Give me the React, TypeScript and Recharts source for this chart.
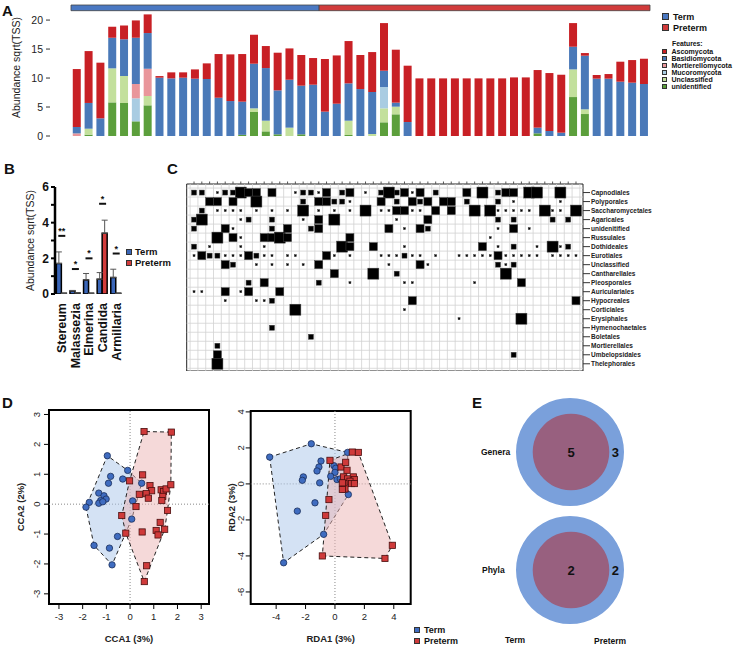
import React from 'react';
import {
  BarChart, Bar, XAxis, YAxis, ReferenceArea, ReferenceLine, ComposedChart,
  ErrorBar, Scatter, ScatterChart, PieChart, Pie,
} from 'recharts';

const FONT = "'Liberation Sans', Arial, Helvetica, sans-serif";

// ---------- A: phylum abundance per sample (49 samples, first 21 are Term)
const SAMPLES = Array.from({ length: 49 }, (_, i) => `S${i + 1}`);
const TERM_N = 21;

const UNIDENTIFIED = [
  0, 0.23, 0, 5.8, 5.7, 2.53, 5.29, 0, 0, 0,
  0, 0, 0, 0, 0.2, 4.14, 0.8, 0.29, 0, 0.29,
  0, 0, 0, 0.17, 0, 0, 2.36, 3.74, 0, 0,
  0, 0, 0, 0, 0, 0, 0, 0, 0, 0.46,
  0, 0, 6.72, 3.79, 0, 0, 0, 0, 0,
];
const UNCLASSIFIED = [
  0, 1.03, 0, 5.87, 4.64, 0, 1.61, 0, 0, 0,
  0, 0, 0, 0, 0, 0.63, 1.84, 0, 1.44, 0,
  0, 0, 0, 2.47, 0, 0.34, 2.41, 1.32, 0, 0,
  0, 0, 0, 0, 0, 0, 0, 0, 0, 0,
  0, 0, 4.77, 0.81, 0, 0, 0, 0, 0,
];
const MUCOROMYCOTA = [
  0, 0, 0, 0, 0, 3.97, 0, 0, 0, 0,
  0, 0, 0, 0, 0, 0, 0, 0, 0, 0,
  0, 0, 0, 0, 0, 0, 3.68, 0, 0, 0,
  0, 0, 0, 0, 0, 0, 0, 0, 0, 0,
  0, 0, 0, 0, 0, 0, 0, 0, 0,
];
const MORTIERELLOMYCOTA = [
  0.45, 0, 0, 0, 0, 2.47, 4.7, 0, 0, 0,
  0, 0, 0, 0, 0, 0, 0, 0, 0, 0,
  0, 0, 0, 0, 0, 0, 0, 0, 0, 0,
  0, 0, 0, 0, 0, 0, 0, 0, 0, 0,
  0, 0, 0, 0, 0, 0, 0, 0, 0,
];
const BASIDIOMYCOTA = [
  1.1, 4.44, 3.05, 5.28, 6.36, 7.98, 6.16, 10.06, 9.94, 10.06,
  9.89, 9.83, 6.6, 6.03, 5.72, 7.7, 9.08, 7.58, 8.27, 8.39,
  8.85, 4.2, 5.57, 6.44, 8.1, 7.25, 2.81, 0.69, 2.41, 0,
  0, 0, 0, 0, 0, 0, 0, 0, 0, 0.98,
  0.86, 0.57, 3.91, 9.25, 9.89, 9.89, 9.37, 9.2, 8.97,
];
const ASCOMYCOTA = [
  10.0, 8.95, 9.6, 1.9, 2.38, 2.99, 3.22, 0.28, 1.04, 0.92,
  1.6, 2.7, 7.54, 8.05, 8.22, 5.0, 3.8, 6.5, 5.4, 5.29,
  4.6, 9.08, 8.33, 7.3, 5.87, 6.89, 8.22, 9.14, 9.72, 9.94,
  9.94, 9.94, 9.94, 9.94, 9.94, 9.94, 9.94, 10.11, 10.11, 9.94,
  10.0, 10.0, 4.08, 0.46, 0.63, 0.8, 3.45, 3.9, 4.36,
];

// stacking order, bottom first
const PHYLA = [
  { key: 'unidentified', color: '#5c9f3c', values: UNIDENTIFIED },
  { key: 'Unclassified', color: '#c3e09c', values: UNCLASSIFIED },
  { key: 'Mucoromycota', color: '#a9cce2', values: MUCOROMYCOTA },
  { key: 'Mortierellomycota', color: '#e9969b', values: MORTIERELLOMYCOTA },
  { key: 'Basidiomycota', color: '#4a79b8', values: BASIDIOMYCOTA },
  { key: 'Ascomycota', color: '#c82025', values: ASCOMYCOTA },
];

const dataA = SAMPLES.map((s, i) => {
  const row: Record<string, string | number> = { sample: s };
  PHYLA.forEach((p) => { row[p.key] = p.values[i]; });
  return row;
});

// ---------- B: differential genera
const GENERA = ['Stereum', 'Malassezia', 'Elmerina', 'Candida', 'Armillaria'];
const TERM_MEAN = [1.71, 0.17, 0.79, 0.83, 0.92];
const PRETERM_MEAN = [0.04, 0.06, 0.04, 3.41, 0.04];
const TERM_SE = [0.65, 0.03, 0.36, 0.37, 0.47];
const PRETERM_SE = [0, 0, 0, 0.73, 0];
const SIG_LEVEL = [3.26, 1.4, 2.0, 5.06, 2.27];
const SIG_MARK = ['**', '*', '*', '*', '*'];

const dataB = GENERA.map((g, i) => ({
  genus: g,
  term: TERM_MEAN[i],
  preterm: PRETERM_MEAN[i],
  termErr: [0, TERM_SE[i]],
  pretermErr: [0, PRETERM_SE[i]],
  sig: SIG_LEVEL[i],
  mark: SIG_MARK[i],
}));

// ---------- C: order abundance per sample (0 none .. 4 high), 50 samples
const ORDERS = [
  'Capnodiales', 'Polyporales', 'Saccharomycetales', 'Agaricales', 'unidenitified',
  'Russulales', 'Dothideales', 'Eurotiales', 'Unclassified', 'Cantharellales',
  'Pleosporales', 'Auriculariales', 'Hypocreales', 'Corticiales', 'Erysiphales',
  'Hymenochaetales', 'Boletales', 'Mortierellales', 'Umbelopsidales', 'Thelephorales',
];
const ORDER_GRID = [
  '2201224330 3001221302 3010242313 0200030402 3304400400',
  '0033030040 0000203322 1000302032 3033020002 0100000100',
  '0201111010 1010401010 1040113311 0303004041 1111041104',
  '2400001200 2000103040 0000001000 3000000002 0200002020',
  '2000310000 2030023000 0000030103 2000000001 0301000000',
  '0004031003 3430000000 3000000000 0000000010 0000000000',
  '2010001001 0000000004 3003000100 0000000301 0200104120',
  '1322111321 1011000310 1000111211 0100111113 1111101111',
  '0000320010 1010103000 0000010003 1000000002 1200000000',
  '0000000000 0000000030 0004002000 0000000000 4000000000',
  '0000000203 0000002000 1000000110 0000001000 0030000000',
  '1100301300 0300000000 0000000000 0000000000 0000000000',
  '0000100011 2000000000 0000000030 0000000000 0000000003',
  '0000000000 0004000000 0000000100 0000000000 0000000000',
  '0000000000 0000000000 0000000000 0000100000 0040000000',
  '0000000000 2000000000 0000000000 0000000000 0000000000',
  '0000000000 0000020000 0000000000 0000000000 0000000000',
  '0002000000 0000000000 0000000000 0000000000 0000000000',
  '0003000000 0000000000 0000000000 0000000000 0200000000',
  '0004000000 0000000000 0000000000 0000000000 0000000000',
];
const COLS = Array.from({ length: 50 }, (_, i) => i);
const ROWS = ORDERS.map((_, i) => i);
const cellsC = ORDER_GRID.flatMap((line, r) =>
  line.replace(/\s/g, '').split('').map((ch, c) => ({ sample: c, order: r, level: Number(ch) })),
).filter((d) => d.level > 0);
const SQUARE_PX = [0, 2, 5, 8, 11];

// ---------- D: ordinations
const CCA_TERM = [
  [-0.96, 1.62], [-0.1, 1.13], [-0.82, 0.93], [-0.31, 0.84], [-0.91, 0.7], [0.49, 0.7],
  [-1.32, 0.37], [-1.1, 0.28], [-1.01, 0.17], [-1.24, 0.12], [-1.72, 0.06], [-1.32, 0.03],
  [-1.15, 0.08], [-1.86, -0.1], [0.11, 0.11], [0.07, -0.5], [-0.53, -1.08], [-1.52, -1.38],
  [-0.87, -1.47], [-0.76, -2.03],
];
const CCA_PRETERM = [
  [0.59, 2.43], [1.74, 2.41], [0.53, 0.98], [-0.02, 0.78], [0.84, 0.62], [0.91, 0.45],
  [1.31, 0.48], [1.41, 0.42], [1.52, 0.51], [1.72, 0.65], [0.39, 0.33], [0.68, 0.35],
  [0.77, 0.2], [1.38, 0.26], [1.34, 0.12], [0.25, -0.08], [1.58, -0.21], [-0.35, -0.38],
  [1.27, -0.61], [-0.18, -0.97], [0.51, -0.93], [1.1, -0.88], [1.46, -0.84], [1.18, -1.03],
  [0.7, -2.06], [0.6, -2.59],
];
const RDA_TERM = [
  [-1.61, 2.23], [-4.44, 1.49], [0.86, 1.75], [-0.95, 1.27], [-1.09, 0.94], [-1.22, 0.72],
  [-0.07, 1.01], [0.05, 0.87], [0, 0.64], [-2.15, 0.39], [-2.22, 0.2], [-0.29, 0.42],
  [0.14, 0.24], [0.36, 0.28], [-1.04, 0.06], [0.91, -0.59], [-1.36, -1.05], [-2.56, -1.51],
  [-0.77, -2.8], [-3.49, -4.38],
];
const RDA_PRETERM = [
  [1.18, 1.77], [1.59, 1.75], [-0.34, 1.31], [0.41, 0.94], [0.73, 1.2], [0.82, 0.76],
  [0.59, 0.39], [0.86, 0.28], [1.25, 0.39], [1.32, 0.24], [1.02, 0.15], [0.61, 0.02],
  [1.13, 0.02], [0.68, -0.28], [0.5, -0.31], [-0.41, -0.87], [-0.63, -1.75], [-0.86, -4.0],
  [3.4, -4.14], [3.9, -3.41], [1.32, 0.02], [0.5, 0.06],
];

// ---------- E: shared / unique counts
const GENERA_SHARED = 5;
const GENERA_UNIQUE = 3;
const PHYLA_SHARED = 2;
const PHYLA_UNIQUE = 2;

type Pt = { x: number; y: number };

function convexHull(points: Pt[]): Pt[] {
  const p = [...points].sort((a, b) => a.x - b.x || a.y - b.y);
  const cross = (o: Pt, a: Pt, b: Pt) => (a.x - o.x) * (b.y - o.y) - (a.y - o.y) * (b.x - o.x);
  const lower: Pt[] = [];
  for (const q of p) {
    while (lower.length >= 2 && cross(lower[lower.length - 2], lower[lower.length - 1], q) <= 0) lower.pop();
    lower.push(q);
  }
  const upper: Pt[] = [];
  for (const q of [...p].reverse()) {
    while (upper.length >= 2 && cross(upper[upper.length - 2], upper[upper.length - 1], q) <= 0) upper.pop();
    upper.push(q);
  }
  lower.pop();
  upper.pop();
  return lower.concat(upper);
}

const Tag = ({ t, x, y }: { t: string; x: number; y: number }) => (
  <div style={{ position: 'absolute', left: x, top: y, font: `bold 15px ${FONT}`, lineHeight: 1, color: '#111' }}>{t}</div>
);

const Swatch = ({ color, size }: { color: string; size: number }) => (
  <span style={{ display: 'inline-block', width: size, height: size, background: color, border: '0.6px solid #333', boxSizing: 'border-box' }} />
);

function PanelA() {
  return (
    <>
      <div style={{ position: 'absolute', left: 0, top: 0 }}>
        <BarChart width={733} height={150} data={dataA} margin={{ top: 5, right: 83, bottom: 14, left: 0 }} barCategoryGap="15%">
          <XAxis dataKey="sample" hide padding={{ left: 21, right: 0 }} />
          <YAxis
            domain={[0, 22.6]} ticks={[0, 5, 10, 15, 20]} width={50} allowDataOverflow
            axisLine={false} tickSize={4} tickMargin={3} tickLine={{ stroke: '#333' }}
            tick={{ fontSize: 10.5, fill: '#222', fontFamily: FONT }}
            label={{ value: 'Abundance sqrt(TSS)', angle: -90, position: 'center', dx: -9, dy: -3, fontSize: 10.5, fill: '#222', fontFamily: FONT }}
          />
          <ReferenceArea x1={SAMPLES[0]} x2={SAMPLES[TERM_N - 1]} y1={21.62} y2={22.6} fill="#4a78c2" fillOpacity={1} stroke="#444" strokeWidth={0.8} />
          <ReferenceArea x1={SAMPLES[TERM_N]} x2={SAMPLES[SAMPLES.length - 1]} y1={21.62} y2={22.6} fill="#d13b3b" fillOpacity={1} stroke="#444" strokeWidth={0.8} />
          {PHYLA.map((p) => (
            <Bar key={p.key} dataKey={p.key} stackId="a" fill={p.color} isAnimationActive={false} />
          ))}
        </BarChart>
      </div>
      <div style={{ position: 'absolute', left: 662, top: 11, font: `bold 9px ${FONT}`, color: '#111' }}>
        <div style={{ display: 'flex', alignItems: 'center', gap: 4, height: 11 }}><Swatch color="#4a78c2" size={7} />Term</div>
        <div style={{ display: 'flex', alignItems: 'center', gap: 4, height: 11 }}><Swatch color="#d13b3b" size={7} />Preterm</div>
      </div>
      <div style={{ position: 'absolute', left: 672, top: 40, font: `bold 6.8px ${FONT}`, color: '#111' }}>Features:</div>
      <div style={{ position: 'absolute', left: 662, top: 47.5, font: `bold 7px ${FONT}`, color: '#111' }}>
        {[...PHYLA].reverse().map((p) => (
          <div key={p.key} style={{ display: 'flex', alignItems: 'center', gap: 4.5, height: 7 }}>
            <Swatch color={p.color} size={5} />{p.key}
          </div>
        ))}
      </div>
    </>
  );
}

const GenusTick = (props: any) => {
  const { x, y, payload } = props;
  return (
    <text x={x} y={y} transform={`rotate(-90 ${x} ${y})`} textAnchor="end" dy="0.35em"
      fontSize={12.5} fontWeight="bold" fill="#111" fontFamily={FONT}>{payload.value}</text>
  );
};

const SigShape = (props: any) => {
  const { cx, cy, payload } = props;
  return (
    <g>
      <line x1={cx - 3.5} x2={cx + 3.5} y1={cy} y2={cy} stroke="#111" strokeWidth={2} />
      <text x={cx} y={cy - 2} textAnchor="middle" fontSize={9} fontWeight="bold" fill="#111" fontFamily={FONT}>{payload.mark}</text>
    </g>
  );
};

function PanelB() {
  return (
    <>
      <div style={{ position: 'absolute', left: 0, top: 180 }}>
        <ComposedChart width={135} height={200} data={dataB} margin={{ top: 7, right: 12, bottom: 0, left: 0 }} barCategoryGap="10%" barGap={0}>
          <XAxis dataKey="genus" axisLine={false} tickLine={false} tickSize={0} tickMargin={9} height={86} interval={0} tick={GenusTick} />
          <YAxis
            domain={[0, 6]} ticks={[0, 1, 2, 3, 4, 5, 6]} width={55} allowDataOverflow interval={0}
            tickFormatter={(v: number) => (v % 2 === 0 ? String(v) : '')}
            axisLine={{ stroke: '#000', strokeWidth: 2.5 }} tickLine={{ stroke: '#000', strokeWidth: 2 }}
            tickSize={4} tickMargin={2}
            tick={{ fontSize: 12, fontWeight: 'bold', fill: '#111', fontFamily: FONT }}
            label={{ value: 'Abundance sqrt(TSS)', angle: -90, position: 'center', dx: 3, fontSize: 10.5, fill: '#222', fontFamily: FONT }}
          />
          <Bar dataKey="term" fill="#3a66b8" stroke="#000" strokeWidth={1.5} isAnimationActive={false}>
            <ErrorBar dataKey="termErr" width={3} stroke="#555" strokeWidth={1} direction="y" />
          </Bar>
          <Bar dataKey="preterm" fill="#d23c3c" stroke="#000" strokeWidth={1.5} isAnimationActive={false}>
            <ErrorBar dataKey="pretermErr" width={3} stroke="#555" strokeWidth={1} direction="y" />
          </Bar>
          <Scatter dataKey="sig" shape={SigShape} isAnimationActive={false} />
        </ComposedChart>
      </div>
      <div style={{ position: 'absolute', left: 126, top: 246, font: `bold 9.5px ${FONT}`, color: '#111' }}>
        <div style={{ display: 'flex', alignItems: 'center', gap: 3, height: 11 }}><Swatch color="#3a66b8" size={6} />Term</div>
        <div style={{ display: 'flex', alignItems: 'center', gap: 3, height: 11 }}><Swatch color="#d23c3c" size={6} />Preterm</div>
      </div>
    </>
  );
}

const CellSquare = (props: any) => {
  const { cx, cy, payload } = props;
  const s = SQUARE_PX[payload.level];
  return <rect x={cx - s / 2} y={cy - s / 2} width={s} height={s} fill="#000" stroke="#444" strokeWidth={0.5} />;
};

function PanelC() {
  const xDom: [number, number] = [-0.94, 49.9];
  const yDom: [number, number] = [-0.95, 19.8];
  return (
    <div style={{ position: 'absolute', left: 180, top: 175 }}>
      <ScatterChart width={480} height={196} margin={{ top: 6, right: 1, bottom: 0, left: 6.7 }}>
        <XAxis type="number" dataKey="sample" orientation="top" domain={xDom} ticks={COLS} allowDataOverflow interval={0}
          height={3} axisLine={false} tickSize={2.5} tickLine={{ stroke: '#555' }} tickFormatter={() => ''} />
        <YAxis type="number" dataKey="order" orientation="right" reversed domain={yDom} ticks={ROWS} allowDataOverflow interval={0}
          tickFormatter={(i: number) => ORDERS[i]} width={76} axisLine={false} tickSize={7} tickMargin={1}
          tickLine={{ stroke: '#333' }} tick={{ fontSize: 6.5, fontWeight: 'bold', fill: '#222', fontFamily: FONT }} />
        {COLS.concat([50]).map((c) => (
          <ReferenceLine key={`v${c}`} x={c - 0.5} stroke="#d2d2d2" strokeWidth={0.8} />
        ))}
        {ROWS.concat([20]).map((r) => (
          <ReferenceLine key={`h${r}`} y={r - 0.5} stroke="#d2d2d2" strokeWidth={0.8} />
        ))}
        <ReferenceArea x1={xDom[0]} x2={xDom[1]} y1={yDom[0]} y2={yDom[1]} fill="none" fillOpacity={0} stroke="#222" strokeWidth={1} />
        <Scatter data={cellsC} shape={CellSquare} isAnimationActive={false} />
      </ScatterChart>
    </div>
  );
}

const RotTick = (props: any) => {
  const { x, y, payload } = props;
  return (
    <text x={x} y={y} transform={`rotate(-90 ${x} ${y})`} textAnchor="middle" fontSize={9.5} fill="#222" fontFamily={FONT}>{payload.value}</text>
  );
};

const TermDot = (props: any) => <circle cx={props.cx} cy={props.cy} r={3.2} fill="#3f6cc0" stroke="#1a2f5a" strokeWidth={0.8} />;
const PretermSq = (props: any) => <rect x={props.cx - 3.1} y={props.cy - 3.1} width={6.2} height={6.2} fill="#cf3a3a" stroke="#4a0e0e" strokeWidth={0.8} />;

const hullLine = (color: string) => (lp: any) => {
  const pts: { x: number; y: number }[] = lp.points || [];
  if (!pts.length) return <g />;
  const d = `M${pts.map((p) => `${p.x},${p.y}`).join('L')}Z`;
  return <path d={d} fill={color} fillOpacity={0.5} stroke="#222" strokeWidth={1} strokeDasharray="4 3" />;
};

type OrdProps = {
  left: number; width: number; top: number; right: number; yAxisWidth: number; yTickMargin: number;
  term: number[][]; preterm: number[][];
  xDomain: [number, number]; yDomain: [number, number]; xTicks: number[]; yTicks: number[];
  xLabel: string; yLabel: string; yLabelDx: number;
};

function Ordination(o: OrdProps) {
  const termPts = o.term.map(([x, y]) => ({ x, y }));
  const pretermPts = o.preterm.map(([x, y]) => ({ x, y }));
  return (
    <div style={{ position: 'absolute', left: o.left, top: 395 }}>
      <ScatterChart width={o.width} height={251} margin={{ top: o.top, right: o.right, bottom: 0, left: 0 }}>
        <XAxis type="number" dataKey="x" domain={o.xDomain} ticks={o.xTicks} allowDataOverflow interval={0}
          axisLine={false} tickSize={5} tickMargin={4} tickLine={{ stroke: '#000' }} height={42}
          tick={{ fontSize: 9.5, fill: '#222', fontFamily: FONT }}
          label={{ value: o.xLabel, position: 'insideBottom', offset: 4, fontSize: 9.5, fontWeight: 'bold', fill: '#222', fontFamily: FONT }} />
        <YAxis type="number" dataKey="y" domain={o.yDomain} ticks={o.yTicks} allowDataOverflow interval={0}
          axisLine={false} tickSize={5} tickMargin={o.yTickMargin} tickLine={{ stroke: '#000' }} width={o.yAxisWidth}
          tick={RotTick}
          label={{ value: o.yLabel, angle: -90, position: 'center', dx: o.yLabelDx, fontSize: 9.5, fontWeight: 'bold', fill: '#222', fontFamily: FONT }} />
        <Scatter data={convexHull(termPts)} shape={() => <g />} line={hullLine('#a9c5ea')} isAnimationActive={false} />
        <Scatter data={convexHull(pretermPts)} shape={() => <g />} line={hullLine('#ebb3b3')} isAnimationActive={false} />
        <ReferenceLine x={0} stroke="#888" strokeDasharray="1 2" />
        <ReferenceLine y={0} stroke="#888" strokeDasharray="1 2" />
        <Scatter data={termPts} shape={TermDot} isAnimationActive={false} />
        <Scatter data={pretermPts} shape={PretermSq} isAnimationActive={false} />
        <ReferenceArea x1={o.xDomain[0]} x2={o.xDomain[1]} y1={o.yDomain[0]} y2={o.yDomain[1]} fill="none" fillOpacity={0} stroke="#000" strokeWidth={2} />
      </ScatterChart>
    </div>
  );
}

const RingLabel = (p: any) => (
  <text x={p.cx + p.outerRadius * 0.84} y={p.cy} textAnchor="middle" dominantBaseline="central"
    fontSize={13} fontWeight="bold" fill="#111" fontFamily={FONT}>{p.value}</text>
);
const CenterLabel = (p: any) => (
  <text x={p.cx} y={p.cy} textAnchor="middle" dominantBaseline="central"
    fontSize={13} fontWeight="bold" fill="#111" fontFamily={FONT}>{p.value}</text>
);

function Venn({ top, shared, unique }: { top: number; shared: number; unique: number }) {
  return (
    <div style={{ position: 'absolute', left: 510, top }}>
      <PieChart width={120} height={120} margin={{ top: 0, right: 0, bottom: 0, left: 0 }}>
        <Pie data={[{ name: 'Term only', value: unique }]} dataKey="value" cx={60} cy={60} innerRadius={0} outerRadius={54}
          startAngle={-180} endAngle={180} fill="#7aa0db" stroke="none" isAnimationActive={false} labelLine={false} label={RingLabel} />
        <Pie data={[{ name: 'Shared', value: shared }]} dataKey="value" cx={61} cy={60} innerRadius={0} outerRadius={38.3}
          startAngle={-180} endAngle={180} fill="#98607f" stroke="none" isAnimationActive={false} labelLine={false} label={CenterLabel} />
      </PieChart>
    </div>
  );
}

const small = (extra: React.CSSProperties): React.CSSProperties => ({
  position: 'absolute', font: `bold 8.5px ${FONT}`, color: '#111', lineHeight: 1, ...extra,
});

export default function App() {
  return (
    <div style={{ position: 'absolute', left: 0, top: 0, width: 733, height: 646, background: '#fff', overflow: 'hidden', fontFamily: FONT }}>
      <Tag t="A" x={2} y={3} />
      <Tag t="B" x={4} y={161} />
      <Tag t="C" x={167} y={161} />
      <Tag t="D" x={2} y={395} />
      <Tag t="E" x={472} y={395} />

      <PanelA />
      <PanelB />
      <PanelC />

      <Ordination left={0} width={235} top={15} right={26} yAxisWidth={49} yTickMargin={4}
        term={CCA_TERM} preterm={CCA_PRETERM} xDomain={[-3.42, 3.33]} yDomain={[-3.34, 3.15]}
        xTicks={[-3, -2, -1, 0, 1, 2, 3]} yTicks={[-3, -2, -1, 0, 1, 2, 3]}
        xLabel="CCA1 (3%)" yLabel="CCA2 (2%)" yLabelDx={-4} />
      <Ordination left={210} width={220} top={16} right={19.3} yAxisWidth={40.7} yTickMargin={2}
        term={RDA_TERM} preterm={RDA_PRETERM} xDomain={[-5.73, 5.15]} yDomain={[-6.67, 4.05]}
        xTicks={[-4, -2, 0, 2, 4]} yTicks={[-6, -4, -2, 0, 2, 4]}
        xLabel="RDA1 (3%)" yLabel="RDA2 (3%)" yLabelDx={1.3} />
      <div style={{ position: 'absolute', left: 414, top: 624, font: `bold 9px ${FONT}`, color: '#111' }}>
        <div style={{ display: 'flex', alignItems: 'center', gap: 4, height: 11 }}><Swatch color="#3f6cc0" size={6} />Term</div>
        <div style={{ display: 'flex', alignItems: 'center', gap: 4, height: 11 }}><Swatch color="#cf3a3a" size={6} />Preterm</div>
      </div>

      <Venn top={392} shared={GENERA_SHARED} unique={GENERA_UNIQUE} />
      <Venn top={510} shared={PHYLA_SHARED} unique={PHYLA_UNIQUE} />
      <div style={small({ left: 481, top: 448 })}>Genera</div>
      <div style={small({ left: 482, top: 566 })}>Phyla</div>
      <div style={small({ left: 505, top: 636 })}>Term</div>
      <div style={small({ left: 594, top: 637 })}>Preterm</div>
    </div>
  );
}
